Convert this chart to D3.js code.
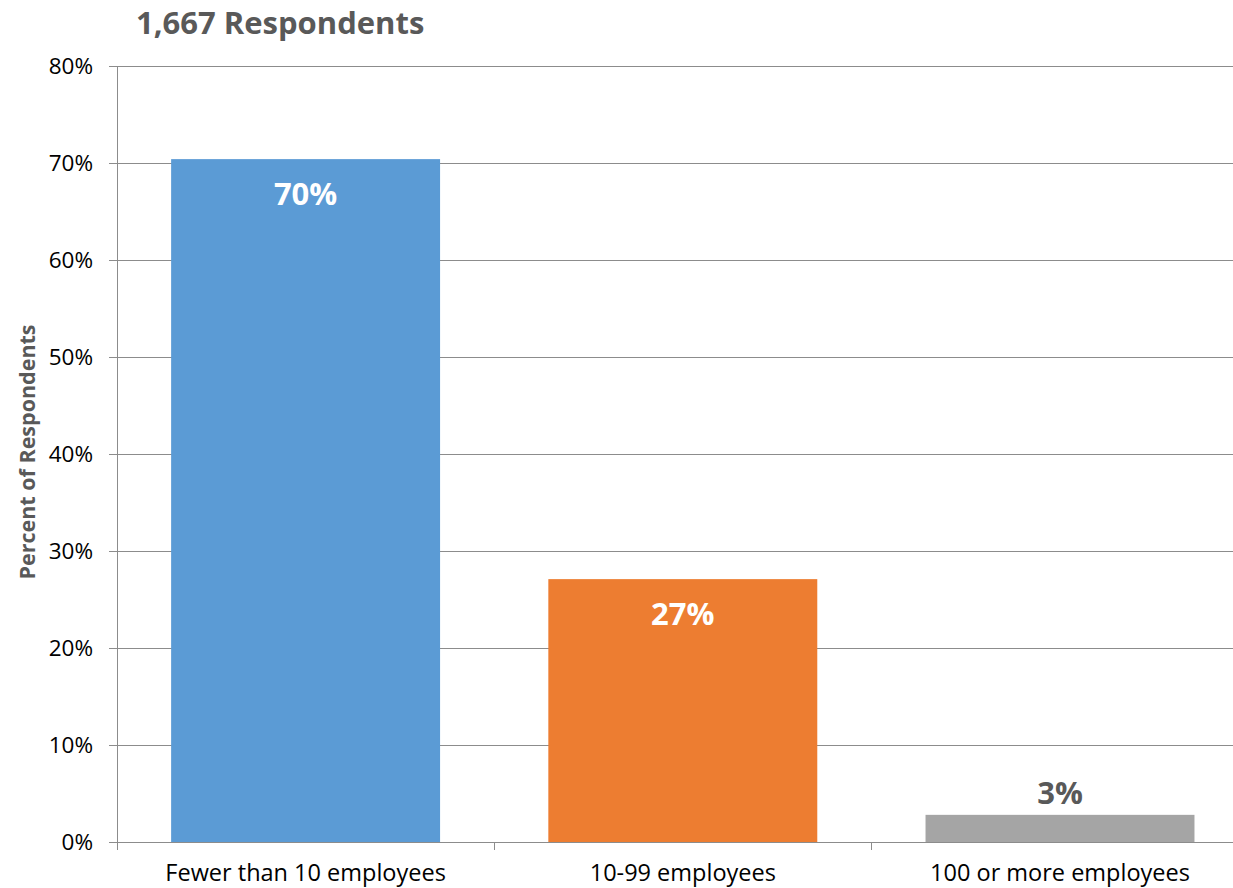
<!DOCTYPE html>
<html>
<head>
<meta charset="utf-8">
<script src="https://cdn.jsdelivr.net/npm/d3@7"></script>
<style>
  html, body { margin: 0; padding: 0; background: #fff; }
  svg { display: block; font-family: "Open Sans", "Liberation Sans", sans-serif; }
</style>
</head>
<body>
<svg id="chart" width="1233" height="888"></svg>
<script>
// Company size of survey respondents
const categories = ["Fewer than 10 employees", "10-99 employees", "100 or more employees"];
const shares = [70.4, 27.1, 2.8];
const barColors = ["#5B9BD5", "#ED7D31", "#A5A5A5"];
const yTicks = [0, 10, 20, 30, 40, 50, 60, 70, 80];
const titleText = "1,667 Respondents";
const yTitle = "Percent of Respondents";

const svg = d3.select("#chart");
const margin = { left: 117, top: 66, bottom: 46 };
const height = 888;
const plotBottom = height - margin.bottom;

const y = d3.scaleLinear().domain([0, 80]).range([plotBottom, margin.top]);
const x = d3.scaleBand()
  .domain(categories)
  .range([margin.left, margin.left + 3 * 377.2])
  .paddingInner(0.287)
  .paddingOuter(0.1435);

// horizontal gridlines
svg.append("g")
  .selectAll("line")
  .data(yTicks)
  .join("line")
  .attr("x1", margin.left - 8)
  .attr("x2", 1233)
  .attr("y1", d => Math.round(y(d)) + 0.5)
  .attr("y2", d => Math.round(y(d)) + 0.5)
  .attr("stroke", "#8c8c8c")
  .attr("stroke-width", 1);

// y tick labels
svg.append("g")
  .selectAll("text")
  .data(yTicks)
  .join("text")
  .attr("x", 93)
  .attr("y", d => y(d))
  .attr("dy", "0.35em")
  .attr("text-anchor", "end")
  .attr("font-size", 22.5)
  .attr("fill", "#000")
  .text(d => d + "%");

// bars
svg.append("g")
  .selectAll("rect")
  .data(categories)
  .join("rect")
  .attr("x", d => x(d))
  .attr("width", x.bandwidth())
  .attr("y", (d, i) => y(shares[i]))
  .attr("height", (d, i) => y(0) - y(shares[i]))
  .attr("fill", (d, i) => barColors[i]);

// vertical axis line
svg.append("line")
  .attr("x1", margin.left + 0.5).attr("x2", margin.left + 0.5)
  .attr("y1", margin.top).attr("y2", plotBottom + 8)
  .attr("stroke", "#8c8c8c");

// category tick marks
const step = x.step();
const bounds = d3.range(categories.length + 1).map(i => margin.left + i * step);
svg.append("g")
  .selectAll("line")
  .data(bounds)
  .join("line")
  .attr("x1", d => Math.round(d) + 0.5)
  .attr("x2", d => Math.round(d) + 0.5)
  .attr("y1", plotBottom)
  .attr("y2", plotBottom + 8)
  .attr("stroke", "#8c8c8c");

// category labels
svg.append("g")
  .selectAll("text")
  .data(categories)
  .join("text")
  .attr("x", d => x(d) + x.bandwidth() / 2)
  .attr("y", 873)
  .attr("dy", "0.35em")
  .attr("text-anchor", "middle")
  .attr("font-size", 23.5)
  .attr("fill", "#000")
  .text(d => d);

// value labels
const fmt = v => Math.round(v) + "%";
svg.append("g")
  .selectAll("text")
  .data(categories)
  .join("text")
  .attr("x", d => x(d) + x.bandwidth() / 2)
  .attr("y", (d, i) => shares[i] > 10 ? y(shares[i]) + 35 : y(shares[i]) - 22)
  .attr("dy", "0.35em")
  .attr("text-anchor", "middle")
  .attr("font-size", 31)
  .attr("font-weight", "bold")
  .attr("fill", (d, i) => shares[i] > 10 ? "#fff" : "#595959")
  .text((d, i) => fmt(shares[i]));

// chart title
svg.append("text")
  .attr("x", 136)
  .attr("y", 23)
  .attr("dy", "0.35em")
  .attr("font-size", 31)
  .attr("font-weight", "bold")
  .attr("fill", "#595959")
  .text(titleText);

// y axis title
svg.append("text")
  .attr("transform", "translate(27,452) rotate(-90)")
  .attr("dy", "0.35em")
  .attr("text-anchor", "middle")
  .attr("font-size", 21.5)
  .attr("font-weight", "bold")
  .attr("fill", "#595959")
  .text(yTitle);
</script>
</body>
</html>
